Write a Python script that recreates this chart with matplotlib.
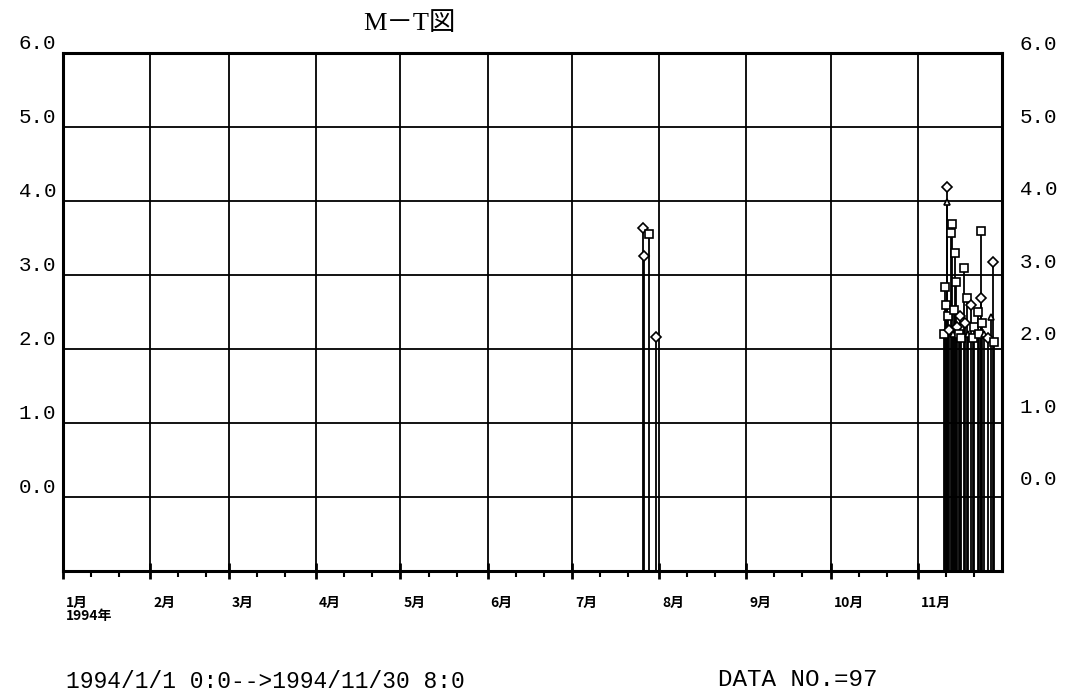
import matplotlib
matplotlib.use("Agg")
import matplotlib.pyplot as plt
import matplotlib.dates as mdates
import matplotlib.transforms as mtransforms
import pandas as pd

plt.rcParams['font.family'] = ['Liberation Mono', 'Noto Sans CJK JP']

# events: date, magnitude, marker kind
jul_dates = ['1994-07-26 06:00', '1994-07-26 12:00', '1994-07-28 08:00', '1994-07-31 00:00']
jul_mags = [3.64, 3.25, 3.55, 2.16]
jul_kinds = ['D', 'D', 's', 'D']

nov_dates = ['1994-11-10 12:00', '1994-11-10 20:00', '1994-11-11 00:00', '1994-11-11 08:00',
             '1994-11-11 10:00', '1994-11-11 20:00', '1994-11-12 05:00', '1994-11-12 20:00',
             '1994-11-13 08:00', '1994-11-13 12:00', '1994-11-14 00:00', '1994-11-14 08:00',
             '1994-11-14 14:00', '1994-11-15 00:00', '1994-11-15 12:00', '1994-11-16 00:00',
             '1994-11-16 12:00', '1994-11-17 08:00', '1994-11-17 20:00', '1994-11-18 12:00',
             '1994-11-19 00:00', '1994-11-19 20:00', '1994-11-20 12:00', '1994-11-21 00:00',
             '1994-11-22 08:00', '1994-11-22 20:00', '1994-11-23 08:00', '1994-11-23 12:00',
             '1994-11-24 00:00', '1994-11-24 12:00', '1994-11-26 00:00', '1994-11-27 00:00',
             '1994-11-27 16:00', '1994-11-28 05:00']
nov_mags = [2.20, 2.83, 2.60, 4.19, 3.98, 2.45, 2.25, 3.57, 3.69, 2.20, 2.52, 3.30,
            2.90, 2.30, 2.20, 2.45, 2.15, 3.10, 2.35, 2.69, 2.20, 2.59, 2.15, 2.30,
            2.50, 2.20, 3.60, 2.69, 2.35, 2.20, 2.15, 2.43, 3.18, 2.10]
nov_kinds = ['s', 's', 's', 'D', '^', 's', 'D', 's', 's', '^', 's', 's',
             's', 'D', 's', 'D', 's', 's', 'D', 's', '^', 'D', 's', 's',
             's', 's', 's', 'D', 's', '^', 'D', '^', 'D', 's']

month_labels = ['1月\n1994年', '2月', '3月', '4月', '5月', '6月', '7月', '8月', '9月', '10月', '11月']
y_values = [0, 1, 2, 3, 4, 5, 6]

dates = pd.to_datetime(jul_dates + nov_dates)
mags = jul_mags + nov_mags
kinds = jul_kinds + nov_kinds

fig = plt.figure(figsize=(10.76, 6.97), dpi=100)
ax = fig.add_axes([0.0586, 0.181, 0.8727, 0.743])

ymin = -1.0
x = [d.to_pydatetime() for d in dates]
ax.vlines(x, ymin, mags, colors='black', linewidth=1.3, zorder=3)
for xi, m, k in zip(x, mags, kinds):
    ax.plot(xi, m, marker=k, markersize=5.5 if k != '^' else 5, markerfacecolor='white',
            markeredgecolor='black', markeredgewidth=1.2, linestyle='none', zorder=4)

ax.set_xlim(pd.Timestamp('1994-01-01').to_pydatetime(), pd.Timestamp('1994-12-01').to_pydatetime())
ax.set_ylim(ymin, 6)

months = pd.date_range('1994-01-01', '1994-11-01', freq='MS')
ax.set_xticks([m.to_pydatetime() for m in months])
ax.set_xticklabels(month_labels, fontsize=10, fontweight='bold', family=['Noto Sans CJK JP'],
                   ha='left', va='top', linespacing=0.9)
ax.xaxis.set_minor_locator(mdates.DayLocator(bymonthday=[11, 21]))
ax.tick_params(axis='x', which='major', direction='inout', length=12, width=2, pad=12)
ax.tick_params(axis='x', which='minor', direction='out', length=4, width=1.5)
offset = mtransforms.ScaledTranslation(3 / 100, 0, fig.dpi_scale_trans)
for lab in ax.get_xticklabels():
    lab.set_transform(lab.get_transform() + offset)

ax.set_yticks(y_values)
ax.set_yticklabels([f'{v}.0' for v in y_values], fontsize=15)
ax.tick_params(axis='y', length=0, pad=5)
for lab in ax.get_yticklabels():
    lab.set_va('bottom')

ax.grid(True, which='major', color='black', linewidth=1.3)
for s in ax.spines.values():
    s.set_linewidth(2.2)

# right side scale, drawn a little offset like the original plot
trans = mtransforms.blended_transform_factory(ax.transAxes, ax.transData)
for v in y_values:
    ax.text(1.019, 0.23 + 0.98 * v, f'{v}.0', transform=trans, fontsize=15,
            va='center', ha='left', clip_on=False)

fig.text(363 / 1076, 1 - 24 / 697, 'M－T図', fontsize=19, va='center', ha='left',
         family=['Liberation Serif', 'Noto Sans CJK JP'])
fig.text(66 / 1076, 1 - 682 / 697, '1994/1/1 0:0-->1994/11/30 8:0', fontsize=16.5,
         va='center', ha='left')
fig.text(718 / 1076, 1 - 679 / 697, 'DATA NO.=97', fontsize=17.5, va='center', ha='left')

fig.savefig('out.png', dpi=100, facecolor='white')
